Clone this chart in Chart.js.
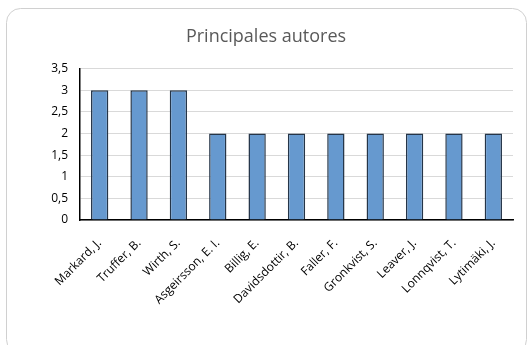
<!DOCTYPE html>
<html>
<head>
<meta charset="utf-8">
<script src="https://cdn.jsdelivr.net/npm/chart.js@4"></script>
<style>
  html, body { margin: 0; padding: 0; background: #fff; }
  #wrap { width: 532px; height: 345px; }
</style>
</head>
<body>
<div id="wrap"><canvas id="barChart" width="532" height="345"></canvas></div>
<script>
// Autores y número de publicaciones
const autores = ['Markard, J.', 'Truffer, B.', 'Wirth, S.', 'Asgeirsson, E. I.', 'Billig, E.',
    'Davidsdottir, B.', 'Faller, F.', 'Gronkvist, S.', 'Leaver, J.', 'Lonnqvist, T.', 'Lytimäki, J.'];
const publicaciones = [3, 3, 3, 2, 2, 2, 2, 2, 2, 2, 2];
const ejeY = { min: 0, max: 3.5, paso: 0.5 };

// Marco redondeado alrededor del gráfico
const marco = {
    id: 'marco',
    beforeDraw(chart) {
        const c = chart.ctx;
        c.save();
        c.fillStyle = '#fff';
        c.fillRect(0, 0, chart.width, chart.height);
        c.strokeStyle = '#d0d0d0';
        c.lineWidth = 1;
        c.beginPath();
        c.roundRect(6.5, 8.5, 520, 345, 14);
        c.stroke();
        c.restore();
    }
};

const ctx = document.getElementById('barChart').getContext('2d');
const barChart = new Chart(ctx, {
    type: 'bar',
    data: {
        labels: autores,
        datasets: [{
            data: publicaciones,
            backgroundColor: '#6699cf',
            borderColor: '#253548',
            borderWidth: 1.5,
            barPercentage: 0.44,
            categoryPercentage: 1
        }]
    },
    options: {
        responsive: false,
        animation: false,
        layout: { padding: { left: 19, right: 19, top: 0, bottom: 0 } },
        plugins: {
            legend: { display: false },
            tooltip: { enabled: false },
            title: {
                display: true,
                text: 'Principales autores',
                color: '#595959',
                font: { family: 'Open Sans', size: 18, weight: 'normal' },
                padding: { top: 26, bottom: 21 }
            }
        },
        scales: {
            x: {
                grid: { display: false },
                border: { color: '#000', width: 1.5 },
                ticks: {
                    color: '#000',
                    font: { family: 'Open Sans', size: 12 },
                    minRotation: 45,
                    maxRotation: 45,
                    padding: 8
                },
                afterFit(scale) { scale.height = 125; }
            },
            y: {
                min: ejeY.min,
                max: ejeY.max,
                grid: { color: '#d9d9d9', lineWidth: 1, drawTicks: false },
                border: { color: '#000', width: 1.5 },
                ticks: {
                    stepSize: ejeY.paso,
                    color: '#000',
                    font: { family: 'Open Sans', size: 12 },
                    padding: 12,
                    callback: v => String(v).replace('.', ',')
                },
                afterFit(scale) { scale.width = 61; }
            }
        }
    },
    plugins: [marco]
});
</script>
</body>
</html>
